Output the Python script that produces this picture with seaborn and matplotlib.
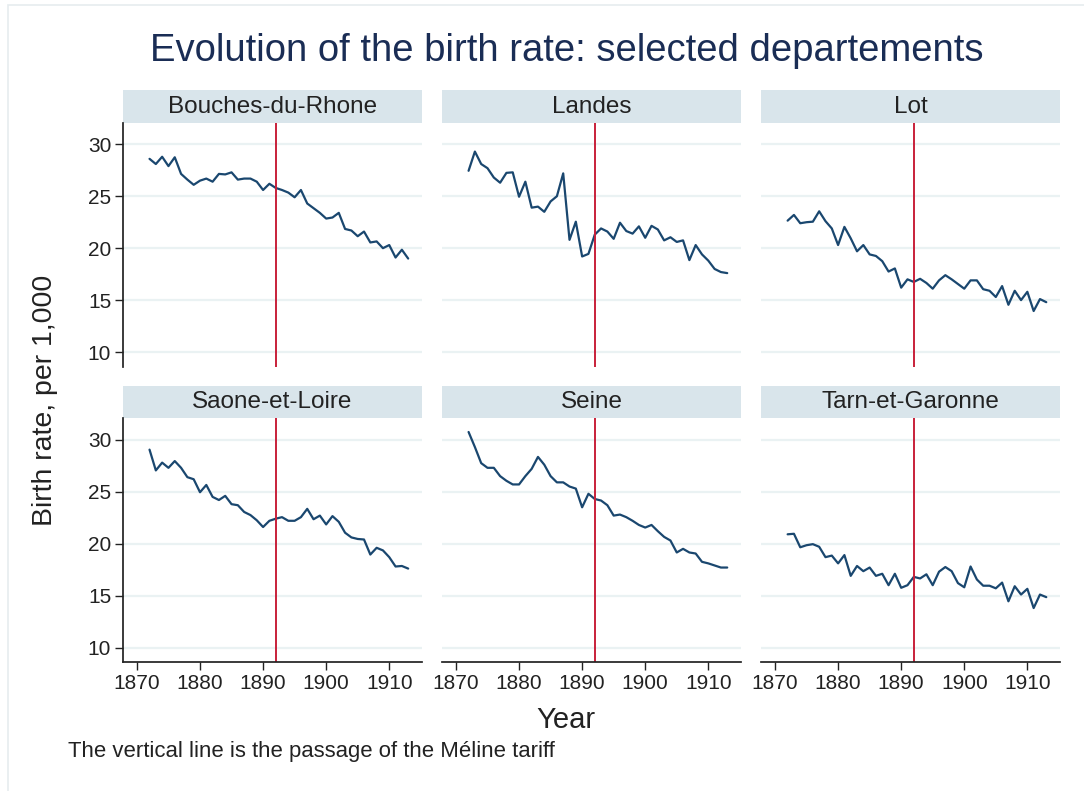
import pandas as pd
import numpy as np
import seaborn as sns
import matplotlib.pyplot as plt
from matplotlib.patches import Rectangle

# Birth rate per 1,000 (1872-1913)
years = list(range(1872, 1914))

bouches_du_rhone = [28.6, 28.1, 28.8, 27.9, 28.75, 27.15, 26.6, 26.1, 26.5, 26.7,
                    26.4, 27.15, 27.1, 27.3, 26.6, 26.7, 26.7, 26.4, 25.6, 26.2,
                    25.8, 25.6, 25.35, 24.9, 25.6, 24.3, 23.85, 23.4, 22.85, 22.95,
                    23.4, 21.85, 21.7, 21.15, 21.6, 20.55, 20.65, 20.0, 20.3, 19.1,
                    19.85, 19.0]
landes = [27.45, 29.3, 28.1, 27.7, 26.8, 26.3, 27.25, 27.3, 24.95, 26.4,
          23.9, 24.0, 23.5, 24.5, 25.0, 27.2, 20.8, 22.55, 19.2, 19.45,
          21.3, 21.9, 21.6, 20.9, 22.45, 21.65, 21.4, 22.1, 21.0, 22.15,
          21.8, 20.75, 21.05, 20.6, 20.75, 18.85, 20.3, 19.4, 18.8, 18.0,
          17.7, 17.6]
lot = [22.65, 23.2, 22.4, 22.5, 22.55, 23.55, 22.6, 21.9, 20.3, 22.05,
       20.95, 19.7, 20.3, 19.4, 19.25, 18.75, 17.75, 18.05, 16.2, 17.0,
       16.75, 17.05, 16.65, 16.1, 16.9, 17.4, 17.0, 16.55, 16.1, 16.9,
       16.9, 16.05, 15.9, 15.3, 16.35, 14.55, 15.9, 15.0, 15.8, 13.95,
       15.1, 14.8]
saone_et_loire = [29.05, 27.05, 27.8, 27.3, 27.95, 27.3, 26.4, 26.2, 24.95, 25.65,
                  24.5, 24.2, 24.6, 23.8, 23.7, 23.05, 22.75, 22.25, 21.6, 22.2,
                  22.4, 22.55, 22.2, 22.2, 22.55, 23.35, 22.35, 22.7, 21.85, 22.65,
                  22.1, 21.05, 20.6, 20.45, 20.4, 18.95, 19.6, 19.35, 18.7, 17.8,
                  17.85, 17.6]
seine = [30.75, 29.3, 27.75, 27.3, 27.3, 26.5, 26.05, 25.7, 25.7, 26.5,
         27.2, 28.35, 27.6, 26.5, 25.9, 25.9, 25.5, 25.3, 23.5, 24.8,
         24.3, 24.15, 23.7, 22.7, 22.8, 22.55, 22.2, 21.8, 21.55, 21.8,
         21.2, 20.65, 20.3, 19.15, 19.5, 19.15, 19.05, 18.25, 18.1, 17.9,
         17.7, 17.7]
tarn_et_garonne = [20.9, 20.95, 19.65, 19.85, 19.95, 19.7, 18.7, 18.85, 18.1, 18.9,
                   16.9, 17.85, 17.35, 17.7, 16.9, 17.1, 16.0, 17.1, 15.75, 16.0,
                   16.8, 16.65, 17.05, 16.0, 17.3, 17.75, 17.35, 16.2, 15.8, 17.8,
                   16.55, 15.95, 15.95, 15.7, 16.25, 14.45, 15.9, 15.1, 15.65, 13.8,
                   15.1, 14.85]

departements = ["Bouches-du-Rhone", "Landes", "Lot",
                "Saone-et-Loire", "Seine", "Tarn-et-Garonne"]
series = [bouches_du_rhone, landes, lot, saone_et_loire, seine, tarn_et_garonne]
meline_year = 1892

frames = []
for name, vals in zip(departements, series):
    frames.append(pd.DataFrame({"year": years, "birth_rate": vals, "dept": name}))
data = pd.concat(frames, ignore_index=True)

sns.set_theme(style="white")
plt.rcParams["font.family"] = ["Liberation Sans", "DejaVu Sans"]

g = sns.relplot(data=data, x="year", y="birth_rate", col="dept", col_wrap=3,
                kind="line", color="#1a476f", linewidth=1.6,
                col_order=departements, height=3, aspect=1.2,
                facet_kws={"sharex": True, "sharey": True})
fig = g.figure
fig.set_size_inches(10.84, 7.91)
fig.subplots_adjust(left=0.1135, right=0.978, top=0.8445, bottom=0.163,
                    wspace=0.067, hspace=0.213)

strip_h = 33 / 244
for i, (ax, name) in enumerate(zip(g.axes.flat, departements)):
    ax.set_title("")
    ax.set_xlabel("")
    ax.set_ylabel("")
    ax.set_xlim(1867.8, 1915.2)
    ax.set_ylim(8.6, 32.05)
    ax.set_yticks([10, 15, 20, 25, 30])
    ax.set_xticks([1870, 1880, 1890, 1900, 1910])
    ax.yaxis.grid(True, color="#eaf2f3", linewidth=1.6)
    ax.xaxis.grid(False)
    ax.set_axisbelow(True)
    ax.axvline(meline_year, color="#c8203a", linewidth=1.4)
    for s in ["top", "right"]:
        ax.spines[s].set_visible(False)
    row, col = divmod(i, 3)
    ax.spines["left"].set_visible(col == 0)
    ax.spines["bottom"].set_visible(row == 1)
    ax.spines["left"].set_color("#222222")
    ax.spines["bottom"].set_color("#222222")
    ax.tick_params(axis="y", left=(col == 0), labelleft=(col == 0),
                   length=5.5, width=1, color="#222222", labelsize=15,
                   labelcolor="#222222", pad=3)
    ax.tick_params(axis="x", bottom=(row == 1), labelbottom=(row == 1),
                   length=5.5, width=1, color="#222222", labelsize=15,
                   labelcolor="#222222", pad=3)
    # strip header
    ax.add_patch(Rectangle((0, 1), 1, strip_h, transform=ax.transAxes,
                           facecolor="#d9e5eb", edgecolor="none", clip_on=False))
    ax.text(0.5, 1 + strip_h / 2, name, transform=ax.transAxes, ha="center",
            va="center", fontsize=17.5, color="#222222")

# outer graph border
fig.patches.append(Rectangle((8 / 1084, -0.01), 1.1, (791 - 5) / 791 + 0.01,
                             transform=fig.transFigure, facecolor="none",
                             edgecolor="#e6ecef", linewidth=1.2))

fig.text(567 / 1084, 1 - 51 / 791, "Evolution of the birth rate: selected departements",
         ha="center", va="center", fontsize=27.5, color="#1a2d55")
fig.text(45 / 1084, 1 - 400 / 791, "Birth rate, per 1,000", rotation=90,
         ha="center", va="center", fontsize=20.5, color="#222222")
fig.text(566 / 1084, 1 - 720 / 791, "Year", ha="center", va="center",
         fontsize=21, color="#222222")
fig.text(68 / 1084, 1 - 752 / 791, "The vertical line is the passage of the Méline tariff",
         ha="left", va="center", fontsize=15.9, color="#222222")

fig.savefig("out.png", dpi=100, facecolor="white")
